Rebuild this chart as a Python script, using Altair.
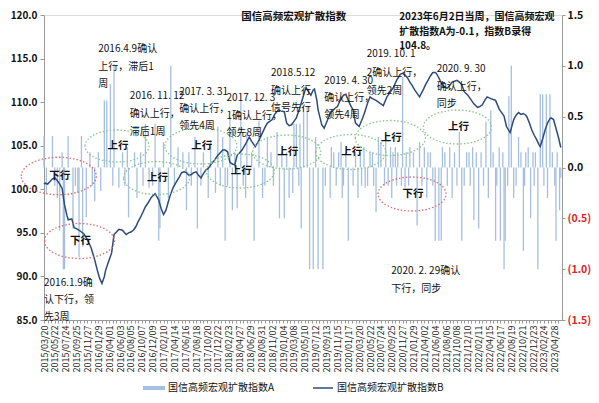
import altair as alt
import pandas as pd

START_LABEL = "2015/03/20"  # week 0

# ---- Index B (line, left axis): week offset from 2015/03/20, value
line_week = [0, 1, 3, 5, 7, 9, 11, 13, 15, 17, 19, 20, 23, 25, 28, 31, 33, 36, 39, 42,
             44, 46, 48, 50, 51, 53, 56, 58, 60, 62, 65, 68, 70, 72, 74, 76, 78, 80, 82, 84,
             86, 89, 92, 95, 97, 99, 101, 103, 105, 107, 109, 112, 114, 116, 118, 120, 122, 124, 126, 128,
             130, 132, 134, 136, 138, 141, 144, 146, 148, 150, 152, 154, 156, 158, 160, 162, 164, 167, 170, 172,
             175, 178, 181, 183, 185, 187, 189, 191, 194, 196, 199, 201, 203, 205, 207, 209, 211, 213, 215, 217,
             219, 221, 223, 224, 226, 227, 229, 230, 232, 235, 237, 239, 241, 243, 245, 248, 250, 252, 254, 256,
             258, 261, 264, 266, 268, 270, 272, 275, 277, 279, 281, 284, 286, 289, 292, 295, 297, 299, 301, 303,
             305, 307, 309, 311, 314, 316, 318, 320, 322, 324, 325, 327, 328, 330, 332, 334, 336, 338, 340, 342,
             344, 346, 348, 351, 354, 356, 359, 361, 363, 365, 367, 370, 372, 374, 377, 379, 381, 383, 386, 389,
             391, 393, 395, 397, 399, 400, 402, 404, 406, 408, 410, 411, 413, 415, 417, 419, 420, 422, 424, 426,
             428]
line_value = [100.6, 100.7, 100.6, 100.9, 101.2, 101.3, 101.0, 100.6, 100.1, 98.2, 97.0, 96.5, 96.6, 95.6, 95.4, 95.1, 94.9, 94.2, 93.3, 91.9,
              90.8, 89.8, 89.2, 90.0, 90.7, 91.5, 92.7, 94.8, 95.1, 95.4, 95.3, 94.8, 95.0, 95.1, 95.3, 95.7, 96.3, 96.8, 97.4, 98.0,
              98.4, 99.1, 99.5, 98.8, 97.8, 97.1, 97.6, 98.6, 99.5, 100.2, 100.7, 101.4, 101.9, 102.0, 101.9, 101.6, 101.7, 101.9, 102.0, 101.6,
              101.3, 101.8, 102.2, 102.4, 102.8, 103.3, 103.9, 104.2, 104.5, 104.5, 104.3, 103.1, 102.9, 102.8, 103.9, 104.2, 104.5, 105.2, 106.0, 105.5,
              104.9, 105.6, 106.5, 107.1, 107.6, 107.8, 108.0, 108.6, 109.1, 109.0, 108.9, 107.6, 107.3, 107.4, 107.8, 108.2, 109.0, 109.9, 110.8, 111.7,
              111.2, 110.8, 111.4, 111.5, 110.2, 109.1, 108.0, 107.4, 107.0, 108.0, 108.7, 109.0, 109.3, 109.5, 110.1, 110.8, 110.9, 110.2, 109.6, 109.1,
              107.6, 107.2, 108.2, 109.0, 109.9, 110.6, 110.4, 110.2, 110.0, 109.8, 109.6, 110.6, 111.0, 111.6, 112.5, 113.2, 113.3, 113.1, 112.8, 112.3,
              111.9, 111.4, 111.0, 110.6, 111.4, 112.0, 112.5, 113.0, 113.4, 113.4, 113.3, 112.8, 112.5, 112.0, 111.7, 111.6, 111.9, 112.3, 112.4, 112.5,
              112.3, 112.0, 111.2, 110.8, 110.2, 109.8, 109.4, 109.5, 109.7, 110.2, 110.6, 110.4, 110.3, 110.2, 109.2, 108.8, 108.4, 107.2, 106.5, 108.0,
              108.5, 108.8, 108.6, 108.7, 108.5, 108.3, 107.6, 106.8, 106.2, 105.7, 105.1, 104.9, 105.8, 106.8, 107.6, 108.1, 108.2, 108.0, 107.0, 106.0,
              104.8]

# ---- Index A (bars, right axis): week offset, value
bar_week = [0, 7, 20, 31, 50, 52, 55, 58, 69, 84, 92, 99, 105, 111, 125, 138, 144, 148, 154, 163,
            168, 178, 185, 193, 207, 209, 212, 215, 218, 225, 238, 246, 258, 265, 277, 279, 283, 287, 291, 297,
            303, 311, 315, 330, 336, 344, 355, 366, 370, 377, 385, 387, 393, 401, 411, 413, 416, 419,
            2, 11, 13, 16, 17, 24, 28, 29, 32, 35, 42, 47, 62, 70, 77, 87, 95, 96, 103, 118,
            127, 136, 142, 150, 156, 160, 167, 174, 181, 195, 199, 203, 206, 213, 220, 223, 227, 231, 237, 247,
            252, 260, 266, 275, 288, 299, 309, 317, 324, 327, 329, 338, 346, 356, 360, 368, 374, 378, 381, 382,
            389, 397, 403, 409, 417, 424, 427, 428,
            240, 244, 250, 262, 270, 272, 289, 293, 300, 306, 318, 320, 332, 340, 350, 352, 358, 362, 372, 380,
            395, 399, 405, 407, 421, 425, 15, 38, 45, 65, 75, 80, 115, 120, 132, 158, 172, 188, 197, 201,
            242, 248, 256, 263, 268, 273, 282, 285, 292, 296, 302, 313, 322, 334, 342, 348, 353, 364, 375, 384,
            391, 398, 406, 414, 423, 9, 26, 40, 57, 67, 82, 90, 108, 122, 130, 146, 152, 165, 183, 190,
            211, 233]
bar_value = [0.31, 0.31, 0.31, 0.31, 0.66, 0.66, 0.82, 1.02, 0.2, 0.43, 0.43, 0.25, 1.0, 0.2, 0.3, 0.27, 0.4, 0.3, 0.5, 0.66,
             0.35, 0.46, 0.3, 0.35, 0.43, 0.43, 0.43, 0.6, 0.6, 0.3, 0.2, 0.25, 0.15, 0.2, 0.3, 0.25, 0.3, 0.2, 0.2, 0.89,
             0.2, 0.25, 0.2, 0.2, 0.2, 0.35, 0.2, 0.45, 0.56, 0.2, 0.7, 1.0, 0.3, 0.2, 0.72, 0.72, 0.72, 0.72,
             -0.26, -0.3, -0.62, -1.0, -1.0, -0.6, -0.25, -0.88, -0.78, -0.49, -0.33, -0.23, -0.2, -0.49, -0.3, -0.2, -0.72, -0.6, -0.3, -0.42,
             -0.6, -0.3, -0.25, -0.72, -0.42, -0.4, -0.3, -0.72, -0.3, -0.5, -0.5, -0.3, -0.25, -0.6, -1.0, -1.0, -1.0, -1.0, -0.3, -0.3,
             -0.72, -0.3, -0.2, -0.44, -0.3, -0.2, -0.57, -0.3, -0.72, -0.72, -0.72, -0.3, -0.72, -0.52, -0.6, -0.3, -0.72, -0.72, -1.0, -0.72,
             -0.3, -0.82, -0.5, -1.0, -0.3, -0.72, -0.42, -0.1,
             0.15, 0.15, 0.15, 0.15, 0.15, 0.15, 0.15, 0.15, 0.15, 0.15, 0.15, 0.15, 0.15, 0.15, 0.15, 0.15, 0.15, 0.15, 0.15, 0.15,
             0.15, 0.15, 0.15, 0.15, 0.15, 0.15, 0.15, 0.15, 0.15, 0.15, 0.15, 0.15, 0.15, 0.15, 0.15, 0.15, 0.15, 0.15, 0.15, 0.15,
             -0.18, -0.18, -0.18, -0.18, -0.18, -0.18, -0.18, -0.18, -0.18, -0.18, -0.18, -0.18, -0.18, -0.18, -0.18, -0.18, -0.18, -0.18, -0.18, -0.18,
             -0.18, -0.18, -0.18, -0.18, -0.18, -0.18, -0.18, -0.18, -0.18, -0.18, -0.18, -0.18, -0.18, -0.18, -0.18, -0.18, -0.18, -0.18, -0.18, -0.18,
             -0.18, -0.18]

left_ticks = [85, 90, 95, 100, 105, 110, 115, 120]
right_ticks = [-1.5, -1.0, -0.5, 0.0, 0.5, 1.0, 1.5]
x_label_every = 9
last_week = 428

series_a = "国信高频宏观扩散指数A"
series_b = "国信高频宏观扩散指数B"
title_text = "国信高频宏观扩散指数"
note_lines = ["2023年6月2日当周，国信高频宏观", "扩散指数A为-0.1，指数B录得", "104.8。"]

FONT = "Noto Sans CJK SC"
BAR_COLOR = "#a6bfe0"
LINE_COLOR = "#2d4c7c"
W, H = 518, 305
SX = W / 525.0

line_df = pd.DataFrame({"week": line_week, "value": line_value})
bar_df = pd.DataFrame({"week": bar_week, "value": bar_value})
bar_df["base"] = 0.0

x_ticks = list(range(0, last_week + 1, 3))
x_scale = alt.Scale(domain=[0, last_week + 1], nice=False, zero=False)
x_axis = alt.Axis(
    values=x_ticks,
    labelExpr=f"datum.value % {x_label_every} == 0 && datum.value <= 423 ? utcFormat(utc(2015, 2, 20) + datum.value * 604800000, '%Y/%m/%d') : ''",
    labelAngle=270, labelFontSize=9, labelFont=FONT, labelColor="#222",
    labelOverlap=False, labelFlush=False, labelPadding=2,
    tickSize=3, tickColor="#999", domainColor="#999", grid=False, title=None,
)

bars = alt.Chart(bar_df).mark_rule(color=BAR_COLOR, strokeWidth=1.3).encode(
    x=alt.X("week:Q", scale=x_scale, axis=x_axis),
    y=alt.Y("value:Q", scale=alt.Scale(domain=[-1.5, 1.5], nice=False, zero=False),
            axis=alt.Axis(orient="right", values=right_ticks, grid=False, title=None,
                          labelExpr="datum.value < 0 ? '(' + format(-datum.value, '.1f') + ')' : format(datum.value, '.1f')",
                          labelColor={"condition": {"test": "datum.value < 0", "value": "#e32222"}, "value": "#111"},
                          labelFontWeight="bold", labelFontSize=10.5, labelFont=FONT, labelPadding=2,
                          tickSize=3, tickColor="#999", domainColor="#999")),
    y2="base:Q",
)

line = alt.Chart(line_df).mark_line(color=LINE_COLOR, strokeWidth=1.5).encode(
    x=alt.X("week:Q", scale=x_scale, axis=x_axis),
    y=alt.Y("value:Q", scale=alt.Scale(domain=[85, 120], nice=False, zero=False),
            axis=alt.Axis(orient="left", values=left_ticks, format=".1f", grid=False, title=None,
                          labelFontWeight="bold", labelFontSize=10, labelFont=FONT, labelColor="#111",
                          labelPadding=3, tickSize=4, tickColor="#999", domainColor="#999")),
)

one = pd.DataFrame({"k": [0]})
ELL = "M-1,0A1,0.5,0,1,1,1,0A1,0.5,0,1,1,-1,0Z"

def ellipse(cx, cy, w, color):
    return alt.Chart(one).mark_point(shape=ELL, size=w * w, filled=False, stroke=color,
                                     strokeWidth=1.3, strokeDash=[1.5, 2], opacity=1).encode(
        x=alt.value(cx * SX), y=alt.value(cy))

def label(x, y, txt, size=11, bold=True, align="center", baseline="middle", lh=None):
    kw = dict(text=txt, fontSize=size, font=FONT, color="#111", align=align, baseline=baseline,
              fontWeight="bold" if bold else "normal")
    if lh is not None:
        kw["lineHeight"] = lh
    return alt.Chart(one).mark_text(**kw).encode(x=alt.value(x * SX), y=alt.value(y))

GREEN = "#86c786"
RED = "#e06a6a"
ups = [(74, 131, 64), (114, 163, 66), (159, 131, 72), (199, 156, 68),
       (246, 137, 68), (311, 137, 70), (351, 123, 70), (419, 112, 68)]
downs = [(15, 161, 75), (36, 226, 70), (373, 179, 68)]

layers = [bars, line]
for cx, cy, w in ups:
    layers.append(ellipse(cx, cy, w, GREEN))
    layers.append(label(cx + 1, cy, "上行", size=10.5))
for cx, cy, w in downs:
    layers.append(ellipse(cx, cy, w, RED))
    layers.append(label(cx + 1, cy, "下行", size=10.5))

notes = [
    (55, 29, ["2016.4.9确认", "上行，滞后1", "周"], 17.5),
    (87, 76, ["2016. 11. 12", "确认上行，", "滞后1周"], 18),
    (137, 72, ["2017. 3. 31", "确认上行，", "领先4周"], 17),
    (185, 78, ["2017. 12. 3", "1确认上行，", "领先8周"], 17.5),
    (230, 53, ["2018.5.12", "确认上行", "信号先行"], 17.5),
    (284, 61, ["2019. 4. 30", "确认上行，", "领先4周"], 17),
    (327, 34, ["2019. 10. 1", "2确认上行，", "领先2周"], 18.5),
    (398, 49, ["2020. 9. 30", "确认上行，", "同步"], 17.5),
    (0, 263, ["2016.1.9确", "认下行，领", "先3周"], 17),
    (352, 251, ["2020. 2. 29确认", "下行，同步"], 18),
]
for x, y, txt, lh in notes:
    layers.append(label(x, y, txt, size=10, bold=False, align="left", baseline="top", lh=lh))

layers.append(label(253, 2, title_text, size=10.5, bold=True))
layers.append(label(360, -3, note_lines, size=10, bold=True, align="left", baseline="top", lh=14.5))

# legend
LY = 373
layers.append(alt.Chart(one).mark_rule(color=BAR_COLOR, strokeWidth=4).encode(
    x=alt.value(99), x2=alt.value(121), y=alt.value(LY)))
layers.append(label(124 / SX, LY, series_a, size=10, bold=False, align="left"))
layers.append(alt.Chart(one).mark_rule(color=LINE_COLOR, strokeWidth=1.5).encode(
    x=alt.value(269), x2=alt.value(289), y=alt.value(LY)))
layers.append(label(293 / SX, LY, series_b, size=10, bold=False, align="left"))

chart = alt.layer(*layers).resolve_scale(y="independent").properties(
    width=W, height=H,
    padding={"left": 36, "top": 7, "right": 29, "bottom": 75},
    autosize=alt.AutoSizeParams(type="none"),
).configure_view(stroke=None).configure(background="white")

chart.save("out.html", embed_options={"renderer": "svg", "actions": False})
